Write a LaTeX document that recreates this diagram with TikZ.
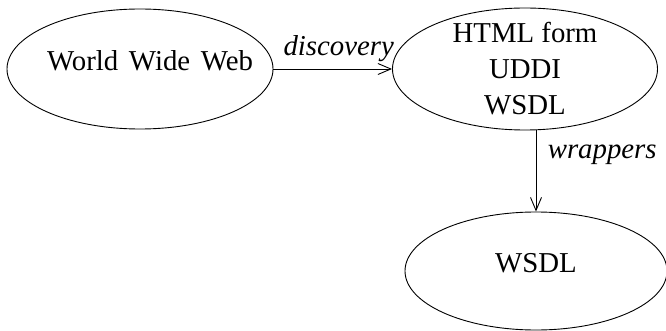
\documentclass[tikz,border=0pt]{standalone}
\usepackage{fontspec}
\setmainfont{Liberation Serif}
\usetikzlibrary{shapes.geometric, arrows.meta}

\begin{document}
\begin{tikzpicture}[x=1pt, y=-1pt]

\def\rw{266} % width of the ellipses
\def\rh{120} % height of the ellipses
\def\fs{28.8} % font size

\tikzset{blob/.style = {draw, ellipse, line width=0.9pt, inner sep=0pt,
                        minimum width=\rw pt, minimum height=\rh pt,
                        font=\fontsize{\fs}{36}\selectfont}
        }
\tikzset{oneline/.style = {text height=20pt, text depth=17pt}}
\tikzset{arr/.style = {line width=0.9pt, -{Straight Barb[length=13pt, width=11pt]}}}
\tikzset{lbl/.style = {font=\itshape\fontsize{\fs}{36}\selectfont}}

\useasboundingbox (0,0) rectangle (666,331);

% ellipses
\node[blob, oneline] (www) at (140,69)
    {\makebox[0pt]{\hspace*{20pt}\makebox[206pt][s]{World Wide Web}}};
\node[blob, align=center, inner ysep=-5pt, minimum width=265pt, minimum height=122pt]
    (forms) at (525,69) {HTML form\\UDDI\\WSDL};
\node[blob, oneline, minimum width=262pt, minimum height=118pt] (wsdl) at (536,271) {WSDL};

% arrows
\draw[arr] (www) -- (forms) node[lbl, above, pos=0.55, yshift=3pt] {discovery};
\draw[arr] (wsdl.north |- forms.south) -- (wsdl.north)
    node[lbl, right, pos=0.3, xshift=8pt] {wrappers};

\end{tikzpicture}
\end{document}
